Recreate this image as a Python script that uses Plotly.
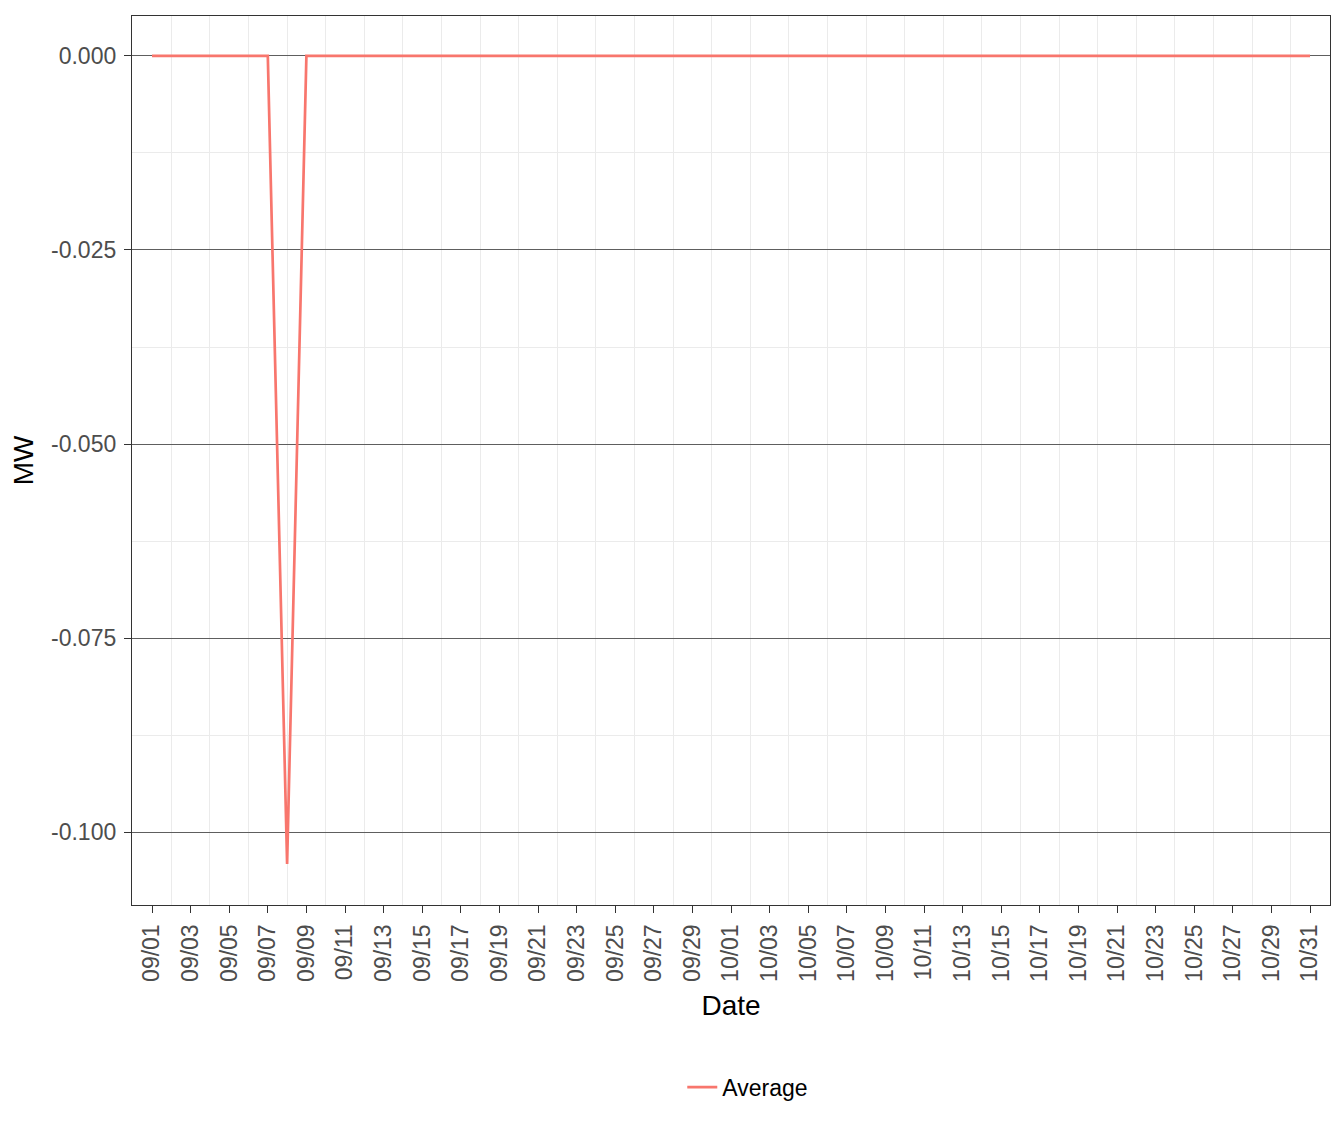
import pandas as pd
import plotly.graph_objects as go

# daily average, 09/01 .. 10/31
dates = pd.date_range('2021-09-01', '2021-10-31', freq='D')
average_mw = [
    0, 0, 0, 0, 0, 0, 0, -0.1041, 0, 0,
    0, 0, 0, 0, 0, 0, 0, 0, 0, 0,
    0, 0, 0, 0, 0, 0, 0, 0, 0, 0,
    0, 0, 0, 0, 0, 0, 0, 0, 0, 0,
    0, 0, 0, 0, 0, 0, 0, 0, 0, 0,
    0, 0, 0, 0, 0, 0, 0, 0, 0, 0,
    0,
]
y_ticks = [0, -0.025, -0.05, -0.075, -0.1]
y_labels = ['0.000', '-0.025', '-0.050', '-0.075', '-0.100']
y_minor = [-0.0125, -0.0375, -0.0625, -0.0875]

font = 'Liberation Sans, Arial, sans-serif'

fig = go.Figure()
fig.add_trace(go.Scatter(x=dates, y=average_mw, mode='lines', name='Average',
                         line=dict(color='#F8766D', width=2.7)))

fig.update_xaxes(
    title=dict(text='Date', font=dict(size=28, color='black'), standoff=14),
    type='date', range=['2021-08-30 23:08', '2021-11-01 00:52'],
    tickmode='linear', tick0='2021-09-01', dtick=2 * 86400000, tickformat='%m/%d',
    tickangle=-90, tickfont=dict(size=23, color='#4D4D4D'), ticklabelstandoff=2,
    ticks='outside', ticklen=7, tickwidth=1.3, tickcolor='#333333',
    showgrid=False, zeroline=False,
    minor=dict(tick0='2021-09-01', dtick=86400000, showgrid=True,
               gridcolor='#EBEBEB', gridwidth=1.3, ticks=''),
    showline=True, mirror=True, linecolor='#333333', linewidth=1.3,
)
fig.update_yaxes(
    title=dict(text='MW', font=dict(size=28, color='black'), standoff=10),
    range=[-0.10938, 0.00514],
    tickmode='array', tickvals=y_ticks, ticktext=y_labels,
    tickfont=dict(size=23, color='#4D4D4D'), ticklabelstandoff=3,
    ticks='outside', ticklen=7, tickwidth=1.3, tickcolor='#333333',
    showgrid=True, gridcolor='#5E5E5E', gridwidth=1, zeroline=False,
    minor=dict(tickvals=y_minor, showgrid=True, gridcolor='#EBEBEB',
               gridwidth=1.3, ticks=''),
    showline=True, mirror=True, linecolor='#333333', linewidth=1.3,
)

# page body adds ~7px offset, margins compensate
fig.update_layout(
    width=1344, height=1142, autosize=False,
    margin=dict(l=124, r=22, t=8, b=245),
    plot_bgcolor='white', paper_bgcolor='white',
    font=dict(family=font),
    showlegend=True,
    legend=dict(orientation='h', x=0.514, xanchor='center', y=-0.205, yanchor='middle',
                font=dict(size=23, color='black'), bgcolor='rgba(0,0,0,0)'),
)

fig.write_html('out.html')
